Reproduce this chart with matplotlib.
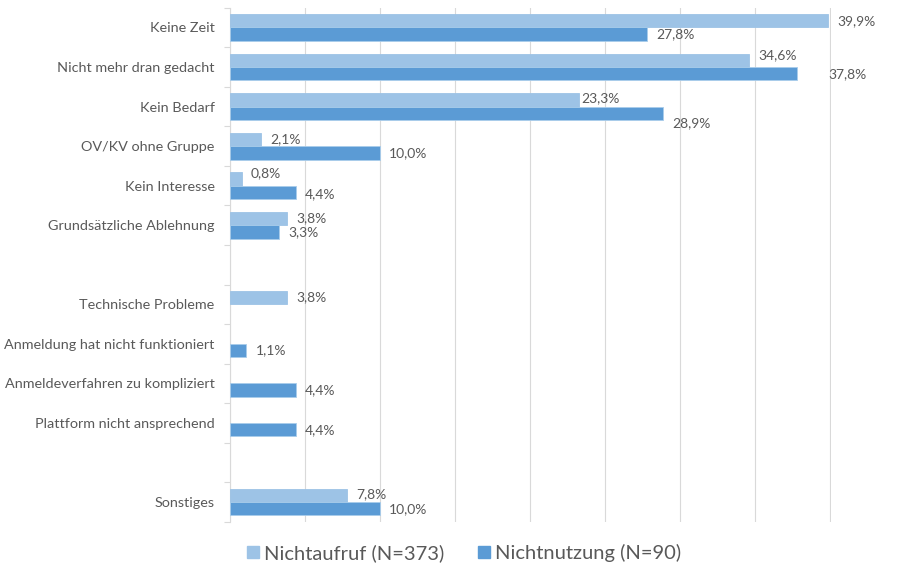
import matplotlib
matplotlib.use("Agg")
import matplotlib.pyplot as plt
import matplotlib.lines as mlines
import numpy as np

# rows from top to bottom; empty strings are spacer rows
CATEGORIES = ["Keine Zeit", "Nicht mehr dran gedacht", "Kein Bedarf", "OV/KV ohne Gruppe",
              "Kein Interesse", "Grundsätzliche Ablehnung", "",
              "Technische Probleme", "Anmeldung hat nicht funktioniert",
              "Anmeldeverfahren zu kompliziert", "Plattform nicht ansprechend", "",
              "Sonstiges"]
NICHTAUFRUF = [39.9, 34.6, 23.3, 2.1, 0.8, 3.8, np.nan, 3.8, np.nan, np.nan, np.nan, np.nan, 7.8]
NICHTNUTZUNG = [27.8, 37.8, 28.9, 10.0, 4.4, 3.3, np.nan, np.nan, 1.1, 4.4, 4.4, np.nan, 10.0]
SERIES_LABELS = ["Nichtaufruf (N=373)", "Nichtnutzung (N=90)"]

LIGHT = "#9DC3E6"
DARK = "#5B9BD5"
TEXT = "#595959"
GRID = "#D9D9D9"

# small manual nudges (points) for data labels that were moved in the original
# key: (series index, row index)
NUDGE = {(0, 1): (0, 4), (1, 1): (16, 0), (0, 2): (-5, 1), (1, 2): (0, -7),
         (0, 4): (0, 4), (1, 4): (0, -1), (0, 12): (0, 1)}

plt.rcParams["font.family"] = ["Lato", "DejaVu Sans"]

XMAX = 40.1
fig = plt.figure(figsize=(9.04, 5.66), dpi=100)
ax = fig.add_axes([230 / 904, 1 - 521.8 / 566, 600 * XMAX / 40 / 904, (521.8 - 7.7) / 566])

n = len(CATEGORIES)
y = np.arange(n)
h = 0.34
ax.barh(y - h / 2, NICHTAUFRUF, height=h, color=LIGHT, edgecolor=LIGHT, linewidth=0.6,
        label=SERIES_LABELS[0], zorder=3)
ax.barh(y + h / 2, NICHTNUTZUNG, height=h, color=DARK, edgecolor="#A9CDEB", linewidth=0.6,
        label=SERIES_LABELS[1], zorder=3)

for s, (vals, off) in enumerate([(NICHTAUFRUF, -h / 2), (NICHTNUTZUNG, h / 2)]):
    for i, v in enumerate(vals):
        if np.isnan(v):
            continue
        dx, dy = NUDGE.get((s, i), (0, 0))
        ax.annotate(f"{v:.1f}%".replace(".", ","), (v, i + off),
                    xytext=(6.5 + dx, dy), textcoords="offset points",
                    ha="left", va="center", fontsize=10, color=TEXT, zorder=4)

ax.set_xlim(0, XMAX)
ax.set_ylim(n - 0.5, -0.5)
ax.set_xticks(np.arange(0, 41, 5))
ax.tick_params(axis="x", length=0, labelbottom=False)
ax.grid(axis="x", color=GRID, linewidth=0.8, zorder=0)

ax.set_yticks(y)
ax.set_yticklabels(CATEGORIES, fontsize=10.4, color=TEXT)
ax.set_yticks(np.arange(-0.5, n, 1), minor=True)
ax.tick_params(axis="y", which="major", length=0, pad=11)
ax.tick_params(axis="y", which="minor", length=4, color=GRID, width=0.8)

for side in ["top", "right", "bottom"]:
    ax.spines[side].set_visible(False)
ax.spines["left"].set_color(GRID)
ax.spines["left"].set_linewidth(0.8)

handles = [mlines.Line2D([], [], marker="s", linestyle="none", markersize=9,
                         markerfacecolor=c, markeredgecolor=c) for c in (LIGHT, DARK)]
leg = fig.legend(handles, SERIES_LABELS, loc="center", bbox_to_anchor=(462 / 904, 1 - 553 / 566),
                 ncol=2, frameon=False, fontsize=14.5, handletextpad=0.05, columnspacing=1.5,
                 handlelength=1.0)
for t in leg.get_texts():
    t.set_color(TEXT)

fig.savefig("out.png", dpi=100)
